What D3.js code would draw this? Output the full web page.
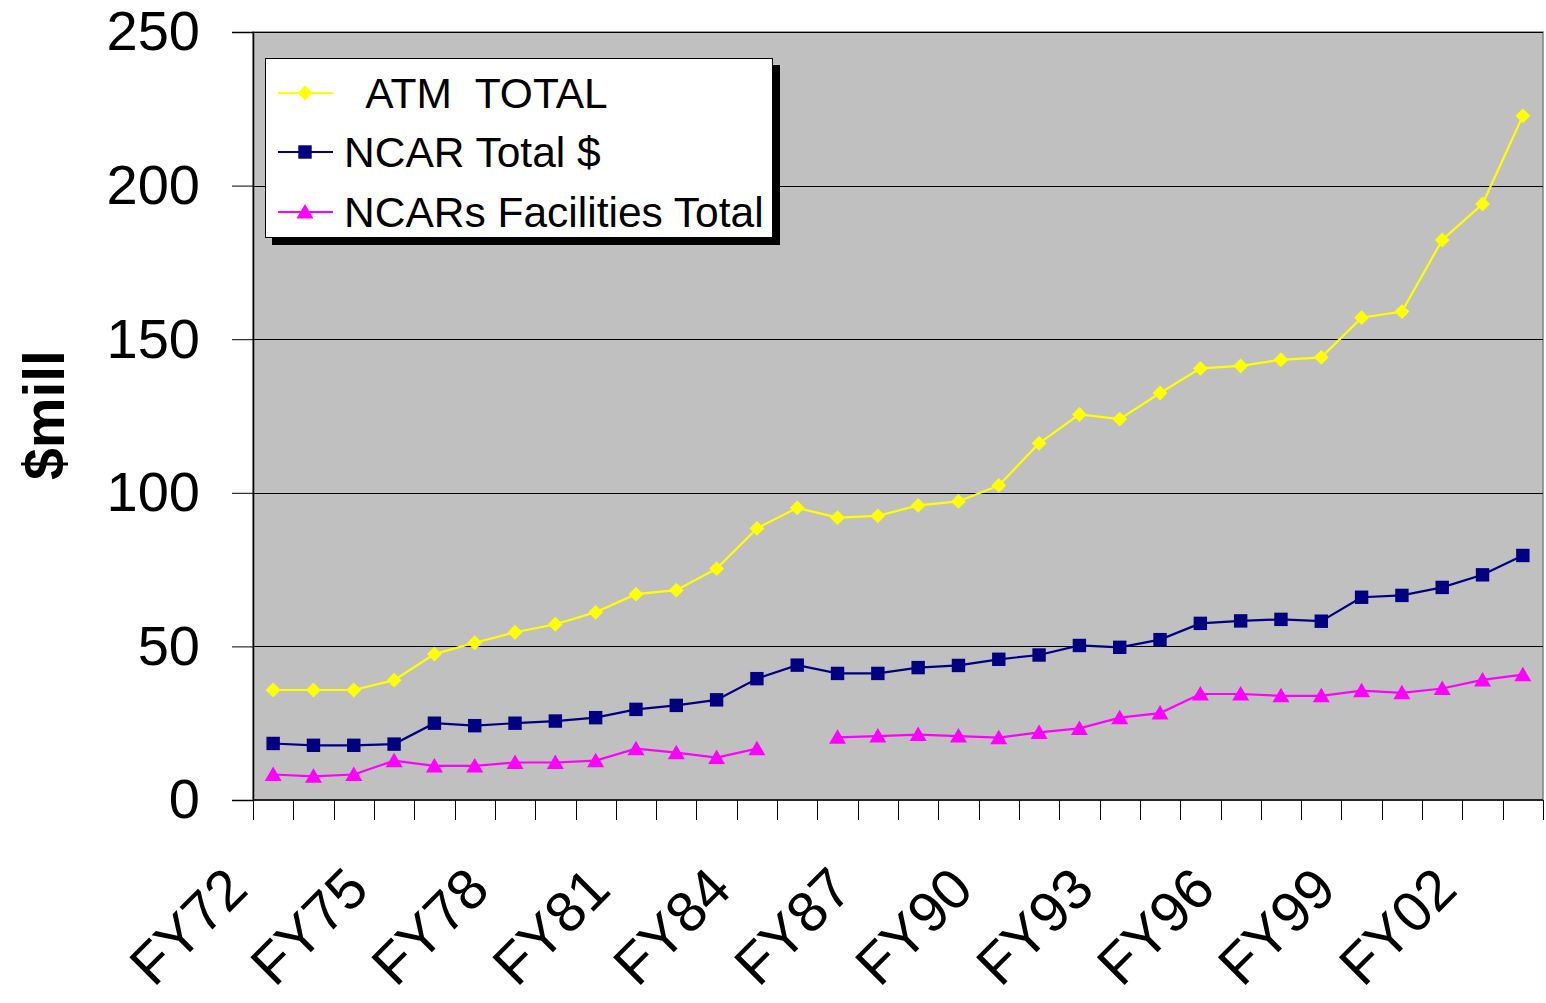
<!DOCTYPE html>
<html>
<head>
<style>
  body { margin: 0; background: #fff; }
  svg text { font-family: "Liberation Sans", Arial, sans-serif; fill: #000; }
</style>
<script src="https://d3js.org/d3.v7.min.js"></script>
</head>
<body>
<script>
// data
const years = ["FY72","FY73","FY74","FY75","FY76","FY77","FY78","FY79","FY80","FY81","FY82",
  "FY83","FY84","FY85","FY86","FY87","FY88","FY89","FY90","FY91","FY92","FY93","FY94",
  "FY95","FY96","FY97","FY98","FY99","FY00","FY01","FY02","FY03"];
const atmTotal = [35.8,35.8,35.8,39.0,47.5,51.2,54.6,57.2,61.1,67.0,68.3,75.3,88.4,95.1,
  91.9,92.5,95.9,97.2,102.4,116.1,125.5,124.0,132.5,140.5,141.3,143.3,144.1,157.0,159.0,182.3,194.0,222.7];
const ncarTotal = [18.4,17.8,17.8,18.2,25.0,24.2,25.0,25.7,26.8,29.5,30.8,32.6,39.5,43.9,
  41.2,41.2,43.1,43.8,45.8,47.2,50.3,49.7,52.2,57.5,58.3,58.8,58.2,66.0,66.6,69.2,73.3,79.6];
const ncarFacilities = [8.3,7.7,8.3,12.8,11.1,11.1,12.2,12.2,12.8,16.7,15.4,13.8,16.7,null,
  20.4,20.8,21.3,20.8,20.3,22.0,23.3,26.8,28.3,34.5,34.5,33.9,33.9,35.6,34.9,36.3,39.1,40.8];
const yTicks = [0, 50, 100, 150, 200, 250];
const xLabels = ["FY72","FY75","FY78","FY81","FY84","FY87","FY90","FY93","FY96","FY99","FY02"];

const series = [
  { name: "  ATM  TOTAL", values: atmTotal, color: "#FFFF00", shape: "diamond" },
  { name: "NCAR Total $", values: ncarTotal, color: "#000080", shape: "square" },
  { name: "NCARs Facilities Total", values: ncarFacilities, color: "#FF00FF", shape: "triangle" }
];

const W = 1546, H = 1003;
const plot = { left: 253, right: 1543, top: 32, bottom: 800 };

const svg = d3.select("body").append("svg")
  .attr("width", W).attr("height", H);

const x = d3.scaleBand().domain(years).range([plot.left, plot.right]).padding(0);
const y = d3.scaleLinear().domain([0, 250]).range([plot.bottom, plot.top]);
const cx = d => x(d) + x.bandwidth() / 2;

// plot background
svg.append("rect")
  .attr("x", plot.left).attr("y", plot.top)
  .attr("width", plot.right - plot.left).attr("height", plot.bottom - plot.top)
  .attr("fill", "#C0C0C0").attr("stroke", "#808080").attr("stroke-width", 1.5);

// gridlines
svg.append("g").selectAll("line")
  .data(yTicks.filter(t => t > 0))
  .join("line")
  .attr("x1", plot.left).attr("x2", plot.right)
  .attr("y1", d => Math.round(y(d)) + 0.5).attr("y2", d => Math.round(y(d)) + 0.5)
  .attr("stroke", "#000").attr("stroke-width", 1);

// y axis
const yAxis = d3.axisLeft(y).tickValues(yTicks).tickSize(21).tickPadding(32).tickFormat(d3.format("d"));
const gy = svg.append("g").attr("transform", `translate(${plot.left},0)`).call(yAxis);
gy.select(".domain").attr("stroke", "#000").attr("stroke-width", 1.5);
gy.selectAll(".tick line").attr("stroke", "#000");
gy.selectAll(".tick text")
  .style("font-family", '"Liberation Sans", Arial, sans-serif')
  .style("font-size", "56px").attr("fill", "#000");

// y label
svg.append("text")
  .attr("transform", "translate(64,415) rotate(-90)")
  .attr("text-anchor", "middle")
  .style("font-size", "57px").style("font-weight", "bold")
  .text("$mill");

// x axis line and boundary ticks
svg.append("line")
  .attr("x1", plot.left).attr("x2", plot.right)
  .attr("y1", plot.bottom).attr("y2", plot.bottom)
  .attr("stroke", "#000").attr("stroke-width", 1.5);
const bounds = years.map(d => x(d)).concat([plot.right]);
svg.append("g").selectAll("line")
  .data(bounds)
  .join("line")
  .attr("x1", d => Math.round(d) + 0.5).attr("x2", d => Math.round(d) + 0.5)
  .attr("y1", plot.bottom).attr("y2", plot.bottom + 20)
  .attr("stroke", "#000").attr("stroke-width", 1);

// x labels, rotated
svg.append("g").selectAll("text")
  .data(xLabels)
  .join("text")
  .attr("transform", d => `translate(${cx(d) - 23},892) rotate(-45)`)
  .attr("text-anchor", "end")
  .style("font-size", "57px")
  .text(d => d);

// markers
function marker(sel, shape, color) {
  if (shape === "diamond") {
    sel.append("path").attr("d", d3.symbol(d3.symbolSquare, 110)())
      .attr("transform", "rotate(45)").attr("fill", color);
  } else if (shape === "square") {
    sel.append("path").attr("d", d3.symbol(d3.symbolSquare, 180)()).attr("fill", color);
  } else {
    sel.append("path").attr("d", "M0,-8L8.5,6.5L-8.5,6.5Z").attr("fill", color);
  }
}

const line = d3.line()
  .defined(d => d.v != null)
  .x(d => cx(d.year))
  .y(d => y(d.v));

series.forEach(s => {
  const pts = years.map((yr, i) => ({ year: yr, v: s.values[i] }));
  svg.append("path")
    .datum(pts)
    .attr("d", line)
    .attr("fill", "none")
    .attr("stroke", s.color)
    .attr("stroke-width", 2.2);
  svg.append("g").selectAll("g")
    .data(pts.filter(p => p.v != null))
    .join("g")
    .attr("transform", p => `translate(${cx(p.year)},${y(p.v)})`)
    .each(function () { marker(d3.select(this), s.shape, s.color); });
});

// legend
const lg = svg.append("g");
lg.append("rect").attr("x", 272).attr("y", 65).attr("width", 508).attr("height", 180).attr("fill", "#000");
lg.append("rect").attr("x", 265.5).attr("y", 58.5).attr("width", 507).attr("height", 179)
  .attr("fill", "#fff").attr("stroke", "#000").attr("stroke-width", 1);
const rows = [93, 152, 212];
series.forEach((s, i) => {
  const r = lg.append("g").attr("transform", `translate(0,${rows[i]})`);
  r.append("line").attr("x1", 278).attr("x2", 333).attr("y1", 0).attr("y2", 0)
    .attr("stroke", s.color).attr("stroke-width", 2);
  marker(r.append("g").attr("transform", "translate(305,0)"), s.shape, s.color);
  r.append("text").attr("x", 344).attr("y", 15)
    .attr("xml:space", "preserve").style("white-space", "pre")
    .style("font-size", "42.5px").text(s.name);
});
</script>
</body>
</html>
